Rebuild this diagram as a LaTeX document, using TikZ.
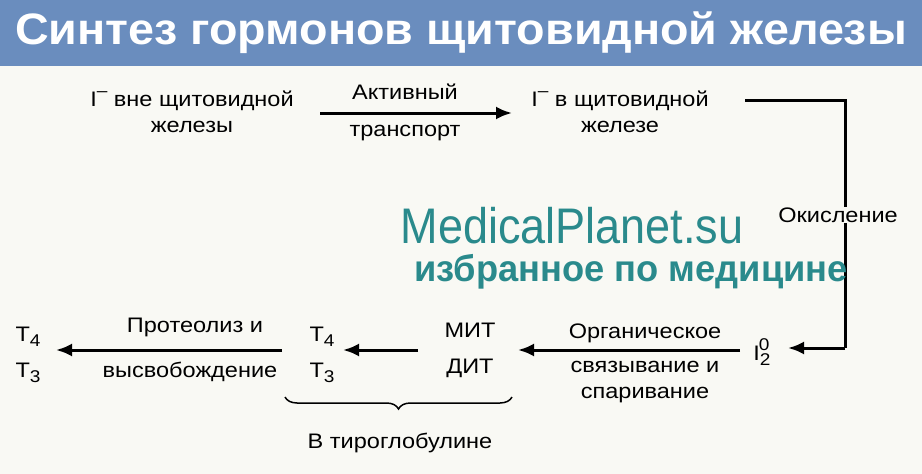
\documentclass[tikz,border=0pt]{standalone}
\usepackage{fontspec}
\setmainfont{Liberation Sans}
\usetikzlibrary{decorations.pathreplacing,arrows.meta}
\definecolor{bar}{HTML}{6A8DBE}
\definecolor{bg}{HTML}{F9F9F4}
\definecolor{wm}{HTML}{2A8A8C}
\newcommand{\sbs}[1]{\raisebox{-0.45ex}{\fontsize{17}{17}\selectfont #1}}
\newcommand{\sps}[1]{\raisebox{0.9ex}{\fontsize{17}{17}\selectfont #1}}
\begin{document}
\begin{tikzpicture}[x=1pt,y=-1pt,
  lbl/.style={font=\fontsize{21}{26}\selectfont\addfontfeatures{FakeStretch=1.12},align=center,inner sep=1pt},
  arr/.style={line width=3pt,-{Latex[length=16pt,width=13pt]}}]
\useasboundingbox (0,0) rectangle (922,474);
\fill[bg] (0,0) rectangle (922,474);
\fill[bar] (0,0) rectangle (922,66);
\node[white,font=\fontsize{44}{48}\selectfont\bfseries\addfontfeatures{FakeStretch=1.06}] (title) at (461,33) {Синтез гормонов щитовидной железы};
\node[lbl] (a) at (192,112) {I\sps{–} вне щитовидной\\железы};
\node[lbl] (b) at (620,112) {I\sps{–} в щитовидной\\железе};
\coordinate (a1) at (320,113);
\coordinate (b1) at (512,113);
\draw[arr] (a1) -- (b1);
\node[lbl] (act) at (405,92) {Активный};
\node[lbl] (tr) at (405,133) {транспорт};
\coordinate (c0) at (745,100);
\coordinate (c1) at (845,100);
\coordinate (c2) at (845,348);
\node[lbl] (i2) at (762,352) {I\sbs{2}\llap{\sps{0}\kern1pt}};
\draw[line width=3pt] (c0) -- (c1) -- (c2);
\draw[arr] (c2) -- (788,348);
\node[lbl,fill=bg] (ox) at (838,215) {Окисление};
\node[wm,font=\fontsize{50}{54}\selectfont\addfontfeatures{FakeStretch=0.9}] (wm1) at (572,226) {MedicalPlanet.su};
\node[wm,font=\fontsize{37}{40}\selectfont\bfseries\addfontfeatures{FakeStretch=0.98}] (wm2) at (631,272) {избранное по медицине};
\node[lbl] (mit) at (470,350) {МИТ\\[10pt]ДИТ};
\draw[arr] (740,350) -- (518,350);
\node[lbl] (org) at (645,363) {Органическое\\[8pt]связывание и\\спаривание};
\node[lbl] (t1) at (322,355) {T\sbs{4}\\[10pt]T\sbs{3}};
\draw[arr] (418,350) -- (343,350);
\node[lbl] (t2) at (28,355) {T\sbs{4}\\[10pt]T\sbs{3}};
\draw[arr] (282,350) -- (56,350);
\node[lbl] (pr) at (195,327) {Протеолиз и};
\node[lbl] (vy) at (190,372) {высвобождение};
\coordinate (br0) at (285,397);
\coordinate (br1) at (512,397);
\draw[line width=1.5pt,decorate,decoration={brace,amplitude=12pt}] (br1) -- (br0);
\node[lbl] (tg) at (400,443) {В тироглобулине};
\end{tikzpicture}
\end{document}
